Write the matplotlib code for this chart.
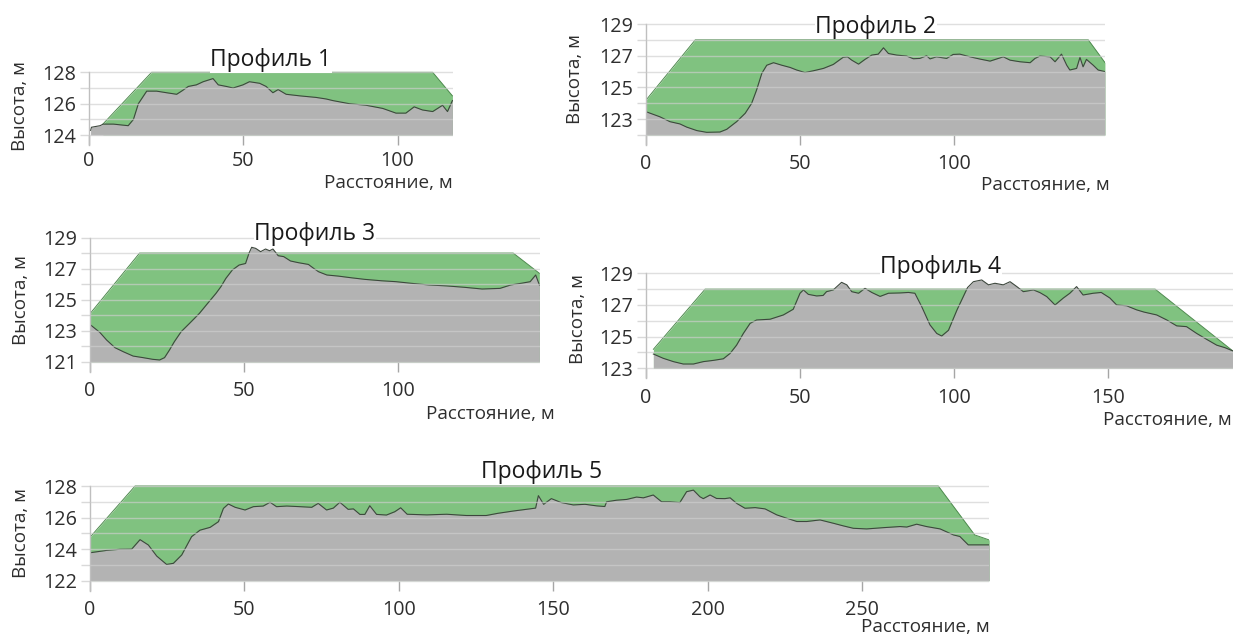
import matplotlib
matplotlib.use("Agg")
import matplotlib.pyplot as plt

plt.rcParams['font.family'] = ['Open Sans', 'DejaVu Sans']

W, H = 1233, 637

# ---------------- data ----------------
TITLES = ["Профиль 1", "Профиль 2", "Профиль 3", "Профиль 4", "Профиль 5"]
XLABEL = "Расстояние, м"
YLABEL = "Высота, м"

P1_TERRAIN = [(0.5, 124.3), (0.8, 124.5), (3.6, 124.6), (4.6, 124.7), (7.9, 124.7), (12.7, 124.6),
              (14.4, 125.0), (16.0, 126.0), (18.7, 126.8), (21.9, 126.8), (25.1, 126.7), (28.4, 126.6),
              (30.0, 126.8), (32.2, 127.1), (34.8, 127.2), (37.0, 127.4), (40.2, 127.6), (41.9, 127.2),
              (44.5, 127.1), (46.7, 127.0), (49.9, 127.2), (52.0, 127.4), (55.3, 127.3), (57.4, 127.1),
              (59.6, 126.7), (61.3, 126.9), (63.9, 126.6), (68.3, 126.5), (73.6, 126.4), (76.9, 126.3),
              (79.0, 126.2), (84.4, 126.0), (89.8, 125.9), (95.2, 125.7), (99.5, 125.4), (102.7, 125.4),
              (105.4, 125.8), (108.1, 125.6), (111.4, 125.5), (114.6, 125.9), (116.2, 125.5), (117.8, 126.2)]
P1_DESIGN = [(4.5, 124.7), (20.3, 128.0), (111.4, 128.0), (117.8, 126.5)]

P2_TERRAIN = [(0, 123.47), (4.5, 123.15), (7.8, 122.84), (11, 122.7), (13.2, 122.5), (16.5, 122.28),
              (19.7, 122.17), (24, 122.19), (26.2, 122.36), (29.4, 122.84), (32.2, 123.37), (34.3, 124.0),
              (35.9, 124.84), (37.6, 125.89), (39.2, 126.4), (41.4, 126.56), (44.1, 126.4), (46.8, 126.26),
              (48.9, 126.1), (51.6, 125.94), (54.3, 126.05), (57.6, 126.2), (60.8, 126.45), (64, 126.9),
              (65.4, 126.93), (66.8, 126.72), (69, 126.47), (71.1, 126.77), (73.3, 127.04), (75.4, 127.1),
              (77.1, 127.5), (78.7, 127.14), (81.4, 127.04), (84.6, 126.98), (86.8, 126.81), (88.9, 126.83),
              (91.1, 127.0), (92.2, 126.8), (94.3, 126.93), (97.6, 126.83), (99.7, 127.08), (101.9, 127.1),
              (105.2, 126.93), (108.4, 126.79), (111.7, 126.66), (116, 126.93), (118.2, 126.72),
              (121.4, 126.62), (124.7, 126.56), (126.3, 126.83), (127.9, 126.98), (131.2, 126.93),
              (132.8, 126.62), (134.9, 127.1), (136.6, 126.4), (137.6, 126.1), (139.8, 126.2),
              (140.9, 126.9), (141.9, 126.3), (143, 126.77), (145.2, 126.4), (146.8, 126.1), (149, 126.0)]
P2_DESIGN = [(0, 124.2), (16, 128.0), (143.6, 128.0), (149, 126.57)]

P3_TERRAIN = [(0.0, 123.4), (0.5, 123.33), (3.2, 122.9), (5.4, 122.41), (8.1, 121.92), (10.8, 121.66),
              (14, 121.38), (17.2, 121.28), (20.4, 121.17), (22.6, 121.13), (24.2, 121.28), (25.8, 121.77),
              (27.4, 122.31), (29.6, 122.95), (32.3, 123.48), (35.5, 124.12), (38.2, 124.77), (40.9, 125.41),
              (42.5, 125.84), (44.1, 126.37), (46.2, 126.91), (48.4, 127.23), (50.5, 127.33), (51.6, 127.98),
              (52.5, 128.37), (53.8, 128.3), (55.4, 128.09), (57, 128.26), (58.3, 128.15), (59.4, 128.26),
              (61.1, 127.83), (62.9, 127.77), (65.1, 127.49), (67.7, 127.38), (70.9, 127.27), (72.6, 127.02),
              (74.2, 126.8), (76.9, 126.59), (80.6, 126.52), (84.9, 126.41), (89.2, 126.31), (94.6, 126.22),
              (99.4, 126.16), (104.1, 126.06), (110, 125.95), (115.7, 125.89), (121.5, 125.8),
              (127.3, 125.69), (133.1, 125.73), (136.6, 125.95), (140.1, 126.06), (142.9, 126.16),
              (144.7, 126.59), (145.9, 125.95)]
P3_DESIGN = [(0, 124.1), (16.1, 128.0), (137.4, 128.0), (145.9, 126.7)]

P4_TERRAIN = [(2.4, 123.9), (5.6, 123.63), (8.9, 123.42), (12.1, 123.27), (15.4, 123.27), (18.6, 123.42),
              (21.9, 123.5), (25.1, 123.6), (27.3, 123.94), (29.4, 124.46), (31.6, 125.2), (33.8, 125.84),
              (35.9, 126.05), (40.3, 126.1), (44.6, 126.37), (47.8, 126.73), (50, 127.74), (51.1, 127.95),
              (52.7, 127.67), (55.4, 127.57), (57.5, 127.6), (58.6, 127.84), (60.8, 127.95), (63.5, 128.43),
              (65.2, 128.27), (66.8, 127.84), (69, 127.74), (71.1, 128.05), (73.3, 127.79), (76, 127.54),
              (78.7, 127.74), (82.5, 127.76), (85.2, 127.79), (87.3, 127.74), (89.5, 126.9), (92.2, 125.74),
              (94.4, 125.2), (96, 125.04), (98.2, 125.4), (101, 126.7), (104.4, 128.1), (106.3, 128.47),
              (109, 128.58), (111.2, 128.27), (113.3, 128.37), (116, 128.27), (118.2, 128.47),
              (120.4, 128.16), (122.5, 127.84), (125.8, 127.95), (127.9, 127.78), (130.1, 127.53),
              (132.8, 127.0), (135.5, 127.44), (137.6, 127.74), (139.8, 128.16), (141.9, 127.63),
              (145.2, 127.74), (147.8, 127.79), (150.6, 127.44), (152.8, 127.0), (156, 126.95),
              (159.3, 126.69), (161.7, 126.55), (165.8, 126.37), (169.1, 126.05), (172.3, 125.68),
              (175.5, 125.63), (178.8, 125.2), (182, 124.83), (185.3, 124.46), (188, 124.3), (190.5, 124.1)]
P4_DESIGN = [(2.4, 124.2), (19.2, 128.0), (165.3, 128.0), (190.5, 124.1)]

P5_TERRAIN = [(0, 123.77), (5.4, 123.92), (9.7, 123.99), (13.5, 124.0), (16.2, 124.6), (18.9, 124.26),
              (21.6, 123.56), (24.8, 123.03), (27, 123.1), (29.7, 123.63), (32.9, 124.79), (35.6, 125.2),
              (38.9, 125.38), (41.6, 125.74), (43.2, 126.58), (44.8, 126.86), (47, 126.65), (50.2, 126.48),
              (52.9, 126.69), (56.1, 126.73), (58.3, 126.97), (60.4, 126.69), (63.7, 126.73), (68, 126.69),
              (71.8, 126.65), (73.9, 126.9), (76.6, 126.48), (78.8, 126.6), (80.9, 126.97), (83.6, 126.52),
              (85.3, 126.55), (87.4, 126.2), (89, 126.2), (90.6, 126.75), (92.8, 126.2), (96, 126.16),
              (98.7, 126.37), (100.6, 126.62), (102.7, 126.21), (109.1, 126.17), (115.5, 126.21),
              (121.9, 126.13), (128.3, 126.13), (132.1, 126.27), (137.3, 126.42), (142.4, 126.55),
              (144.3, 126.6), (145.2, 127.39), (146.9, 126.84), (149.4, 127.2), (152.6, 126.95),
              (156.5, 126.8), (160.3, 126.84), (164.1, 126.74), (166.7, 126.7), (167.3, 127.0),
              (170.5, 127.1), (173.8, 127.15), (177, 127.3), (179.2, 127.25), (182.4, 127.43),
              (185.1, 127.0), (187.8, 127.0), (191, 126.95), (193.2, 127.64), (195.4, 127.74),
              (197.5, 127.32), (198.6, 127.2), (200.8, 127.43), (202.9, 127.21), (205.6, 127.2),
              (207.3, 127.25), (209.4, 126.9), (212.1, 126.59), (215.4, 126.63), (218.6, 126.55),
              (222.4, 126.17), (225.6, 125.96), (228.9, 125.75), (232.1, 125.75), (236.4, 125.85),
              (240.7, 125.64), (244, 125.47), (247.2, 125.32), (251.5, 125.28), (256.9, 125.36),
              (262.3, 125.43), (264.5, 125.4), (267.7, 125.58), (270.9, 125.43), (275.3, 125.28),
              (279.6, 124.9), (281.7, 124.8), (284.4, 124.27), (287.1, 124.27), (291.2, 124.27)]
P5_DESIGN = [(0, 124.75), (14.6, 128.0), (274.7, 128.0), (286.5, 124.9), (291.2, 124.58)]

P1_XTICKS = [0, 50, 100]
P2_XTICKS = [0, 50, 100]
P3_XTICKS = [0, 50, 100]
P4_XTICKS = [0, 50, 100, 150]
P5_XTICKS = [0, 50, 100, 150, 200, 250]

P1_YLABELED = [124, 126, 128]
P2_YLABELED = [123, 125, 127, 129]
P3_YLABELED = [121, 123, 125, 127, 129]
P4_YLABELED = [123, 125, 127, 129]
P5_YLABELED = [122, 124, 126, 128]

# ---------------- layout (pixel geometry) ----------------
PANELS = [
    dict(terrain=P1_TERRAIN, design=P1_DESIGN, xticks=P1_XTICKS, ylab=P1_YLABELED,
         x0=89, ppx=3.085, xmax=118, yref=128, yref_px=72.3, ppy=15.7, ybot=124, ytop=128, xpad=4.0,
         title_xy=(271, 66.5), ylabel_xy=(20, 106), xlabel_xy=(453, 188)),
    dict(terrain=P2_TERRAIN, design=P2_DESIGN, xticks=P2_XTICKS, ylab=P2_YLABELED,
         x0=646, ppx=3.08, xmax=149, yref=129, yref_px=24, ppy=15.86, ybot=122, ytop=129, xpad=6.5,
         title_xy=(876, 32.7), ylabel_xy=(575, 79), xlabel_xy=(1110, 190)),
    dict(terrain=P3_TERRAIN, design=P3_DESIGN, xticks=P3_XTICKS, ylab=P3_YLABELED,
         x0=90, ppx=3.08, xmax=146, yref=129, yref_px=237.5, ppy=15.56, ybot=121, ytop=129, xpad=6.5,
         title_xy=(315, 240), ylabel_xy=(21, 300), xlabel_xy=(555, 419)),
    dict(terrain=P4_TERRAIN, design=P4_DESIGN, xticks=P4_XTICKS, ylab=P4_YLABELED,
         x0=646, ppx=3.08, xmax=190.6, yref=129, yref_px=273.3, ppy=15.83, ybot=123, ytop=129, xpad=7.2,
         title_xy=(941, 272.7), ylabel_xy=(578, 319), xlabel_xy=(1232, 425)),
    dict(terrain=P5_TERRAIN, design=P5_DESIGN, xticks=P5_XTICKS, ylab=P5_YLABELED,
         x0=90, ppx=3.088, xmax=291.2, yref=128, yref_px=486, ppy=15.78, ybot=122, ytop=128, xpad=6.5,
         title_xy=(542, 478), ylabel_xy=(21, 533), xlabel_xy=(990, 632)),
]

GREEN = '#80c280'
GREEN_EDGE = '#4e8a4e'
GRAY = '#b3b3b3'
TERRAIN_EDGE = '#3d473d'
GRID = '#cfcfcf'
TEXT = '#2e2e2e'
FS = 14.2

fig = plt.figure(figsize=(W / 100, H / 100), dpi=100)
fig.patch.set_facecolor('white')


def fx(x):
    return x / W


def fy(y):
    return 1 - y / H


for i, p in enumerate(PANELS):
    ylo = p['ybot'] - 10 / p['ppy']
    yhi = p['ytop'] + 0.06
    left_px = p['x0']
    right_px = p['x0'] + p['xmax'] * p['ppx']
    top_px = p['yref_px'] - (yhi - p['yref']) * p['ppy']
    bot_px = p['yref_px'] + (p['yref'] - ylo) * p['ppy']
    ax = fig.add_axes([fx(left_px), fy(bot_px), (right_px - left_px) / W, (bot_px - top_px) / H])
    ax.set_xlim(0, p['xmax'])
    ax.set_ylim(ylo, yhi)
    ax.patch.set_alpha(0)

    dx = [a for a, b in p['design']]
    dy = [b for a, b in p['design']]
    tx = [a for a, b in p['terrain']]
    ty = [b for a, b in p['terrain']]

    ax.fill_between(dx, dy, p['ybot'], color=GREEN, lw=0, zorder=1)
    ax.plot(dx, dy, color=GREEN_EDGE, lw=0.7, zorder=1.5)
    ax.fill_between(tx, ty, p['ybot'], color=GRAY, lw=0, zorder=2)
    ax.plot(tx, ty, color=TERRAIN_EDGE, lw=0.8, zorder=2.5)

    yv = list(range(p['ybot'], p['ytop'] + 1))
    ax.hlines(yv, 0, p['xmax'], colors=GRID, lw=1.0, alpha=0.65, zorder=3)

    for s in ('top', 'right'):
        ax.spines[s].set_visible(False)
    ax.spines['bottom'].set_position(('data', p['ybot']))
    ax.spines['bottom'].set_visible(False)
    ax.spines['left'].set_color('#bfbfbf')
    ax.spines['left'].set_linewidth(1.0)
    ax.spines['left'].set_bounds(ylo, p['ytop'])

    ax.set_yticks(yv)
    ax.set_yticklabels([str(v) if v in p['ylab'] else '' for v in yv])
    ax.set_xticks(p['xticks'])
    ax.set_xticklabels([str(v) for v in p['xticks']])
    ax.tick_params(axis='y', direction='out', length=6.5, width=1.0, color='#d9d9d9',
                   pad=2.8, labelsize=FS, labelcolor=TEXT)
    ax.tick_params(axis='x', direction='out', length=7.2, width=1.0, color='#a6a6a6',
                   pad=p['xpad'], labelsize=FS, labelcolor=TEXT)

    tx_, ty_ = p['title_xy']
    fig.text(fx(tx_), fy(ty_), TITLES[i], ha='center', va='baseline', fontsize=16.5, color='#1a1a1a',
             bbox=dict(facecolor='white', edgecolor='none', pad=0.5), zorder=5)
    lx, ly = p['ylabel_xy']
    fig.text(fx(lx), fy(ly), YLABEL, rotation=90, ha='center', va='center', fontsize=13.6, color=TEXT)
    xx, xy = p['xlabel_xy']
    fig.text(fx(xx), fy(xy), XLABEL, ha='right', va='baseline', fontsize=13.6, color=TEXT)

fig.savefig('out.png', dpi=100, facecolor='white')
